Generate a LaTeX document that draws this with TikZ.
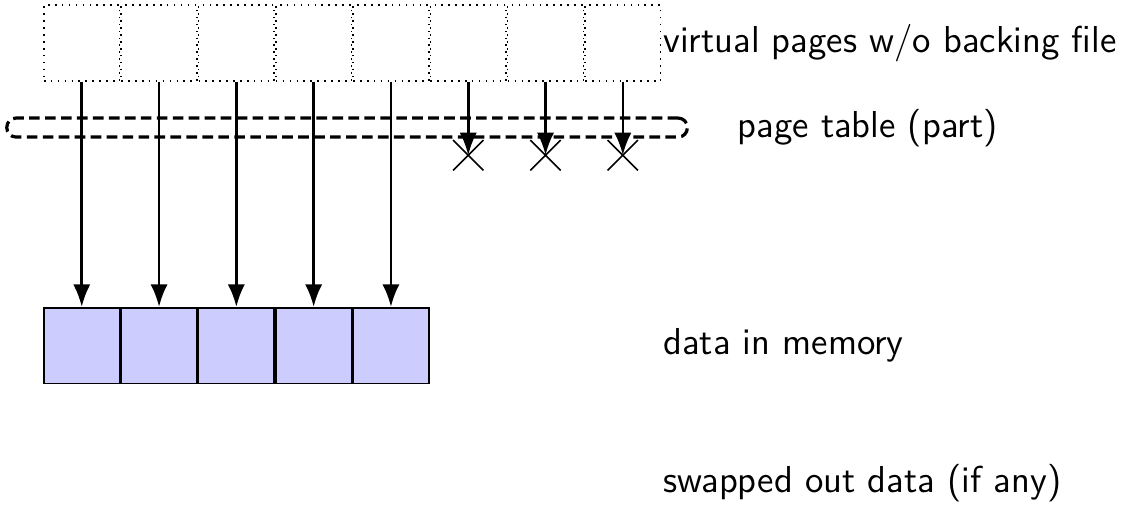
\documentclass[tikz,border=0pt]{standalone}
\usepackage{tikz}
\usetikzlibrary{positioning, arrows.meta, shapes.misc}

\begin{document}
\begin{tikzpicture}[
        font=\sffamily\fontsize{14.1}{17}\selectfont,
        node distance=0pt,
        vpage/.style={draw, dotted, semithick, minimum size=1cm, inner sep=0pt},
        mpage/.style={draw, semithick, fill=blue!20, minimum size=1cm, inner sep=0pt},
        nomap/.style={cross out, draw, semithick, minimum size=0.38cm, inner sep=0pt},
        ptr/.style={line width=1pt, -{Latex[length=8.5pt, width=6.5pt]}}
    ]
        \useasboundingbox (0,0) rectangle (14.914,-6.803);

        \node[vpage] (v1) at (1.08,-0.57) {};
        \node[vpage, right=of v1] (v2) {};
        \node[vpage, right=of v2] (v3) {};
        \node[vpage, right=of v3] (v4) {};
        \node[vpage, right=of v4] (v5) {};
        \node[vpage, right=of v5] (v6) {};
        \node[vpage, right=of v6] (v7) {};
        \node[vpage, right=of v7] (v8) {};

        \node[draw, line width=1.2pt, dash pattern=on 4pt off 2pt, rounded corners=0.12cm,
              minimum width=8.99cm, minimum height=0.25cm, inner sep=0pt]
              (ptable) at (4.585,-1.685) {};

        \node[mpage] (m1) at (1.08,-4.565) {};
        \node[mpage, right=of m1] (m2) {};
        \node[mpage, right=of m2] (m3) {};
        \node[mpage, right=of m3] (m4) {};
        \node[mpage, right=of m4] (m5) {};

        \node[nomap, below=0.77cm of v6.south] (x6) {};
        \node[nomap, below=0.77cm of v7.south] (x7) {};
        \node[nomap, below=0.77cm of v8.south] (x8) {};

        \node[anchor=west] (vlabel) at (8.64,-0.57) {virtual pages w/o backing file};
        \node[anchor=west] (ptlabel) at (9.62,-1.69) {page table (part)};
        \node[anchor=west] (memlabel) at (8.64,-4.56) {data in memory};
        \node[anchor=west] (swaplabel) at (8.64,-6.38) {swapped out data (if any)};

        \draw[ptr] (v1) -- (m1);
        \draw[ptr] (v2) -- (m2);
        \draw[ptr] (v3) -- (m3);
        \draw[ptr] (v4) -- (m4);
        \draw[ptr] (v5) -- (m5);
        \draw[ptr] (v6) -- (x6.center);
        \draw[ptr] (v7) -- (x7.center);
        \draw[ptr] (v8) -- (x8.center);
    \end{tikzpicture}
\end{document}
